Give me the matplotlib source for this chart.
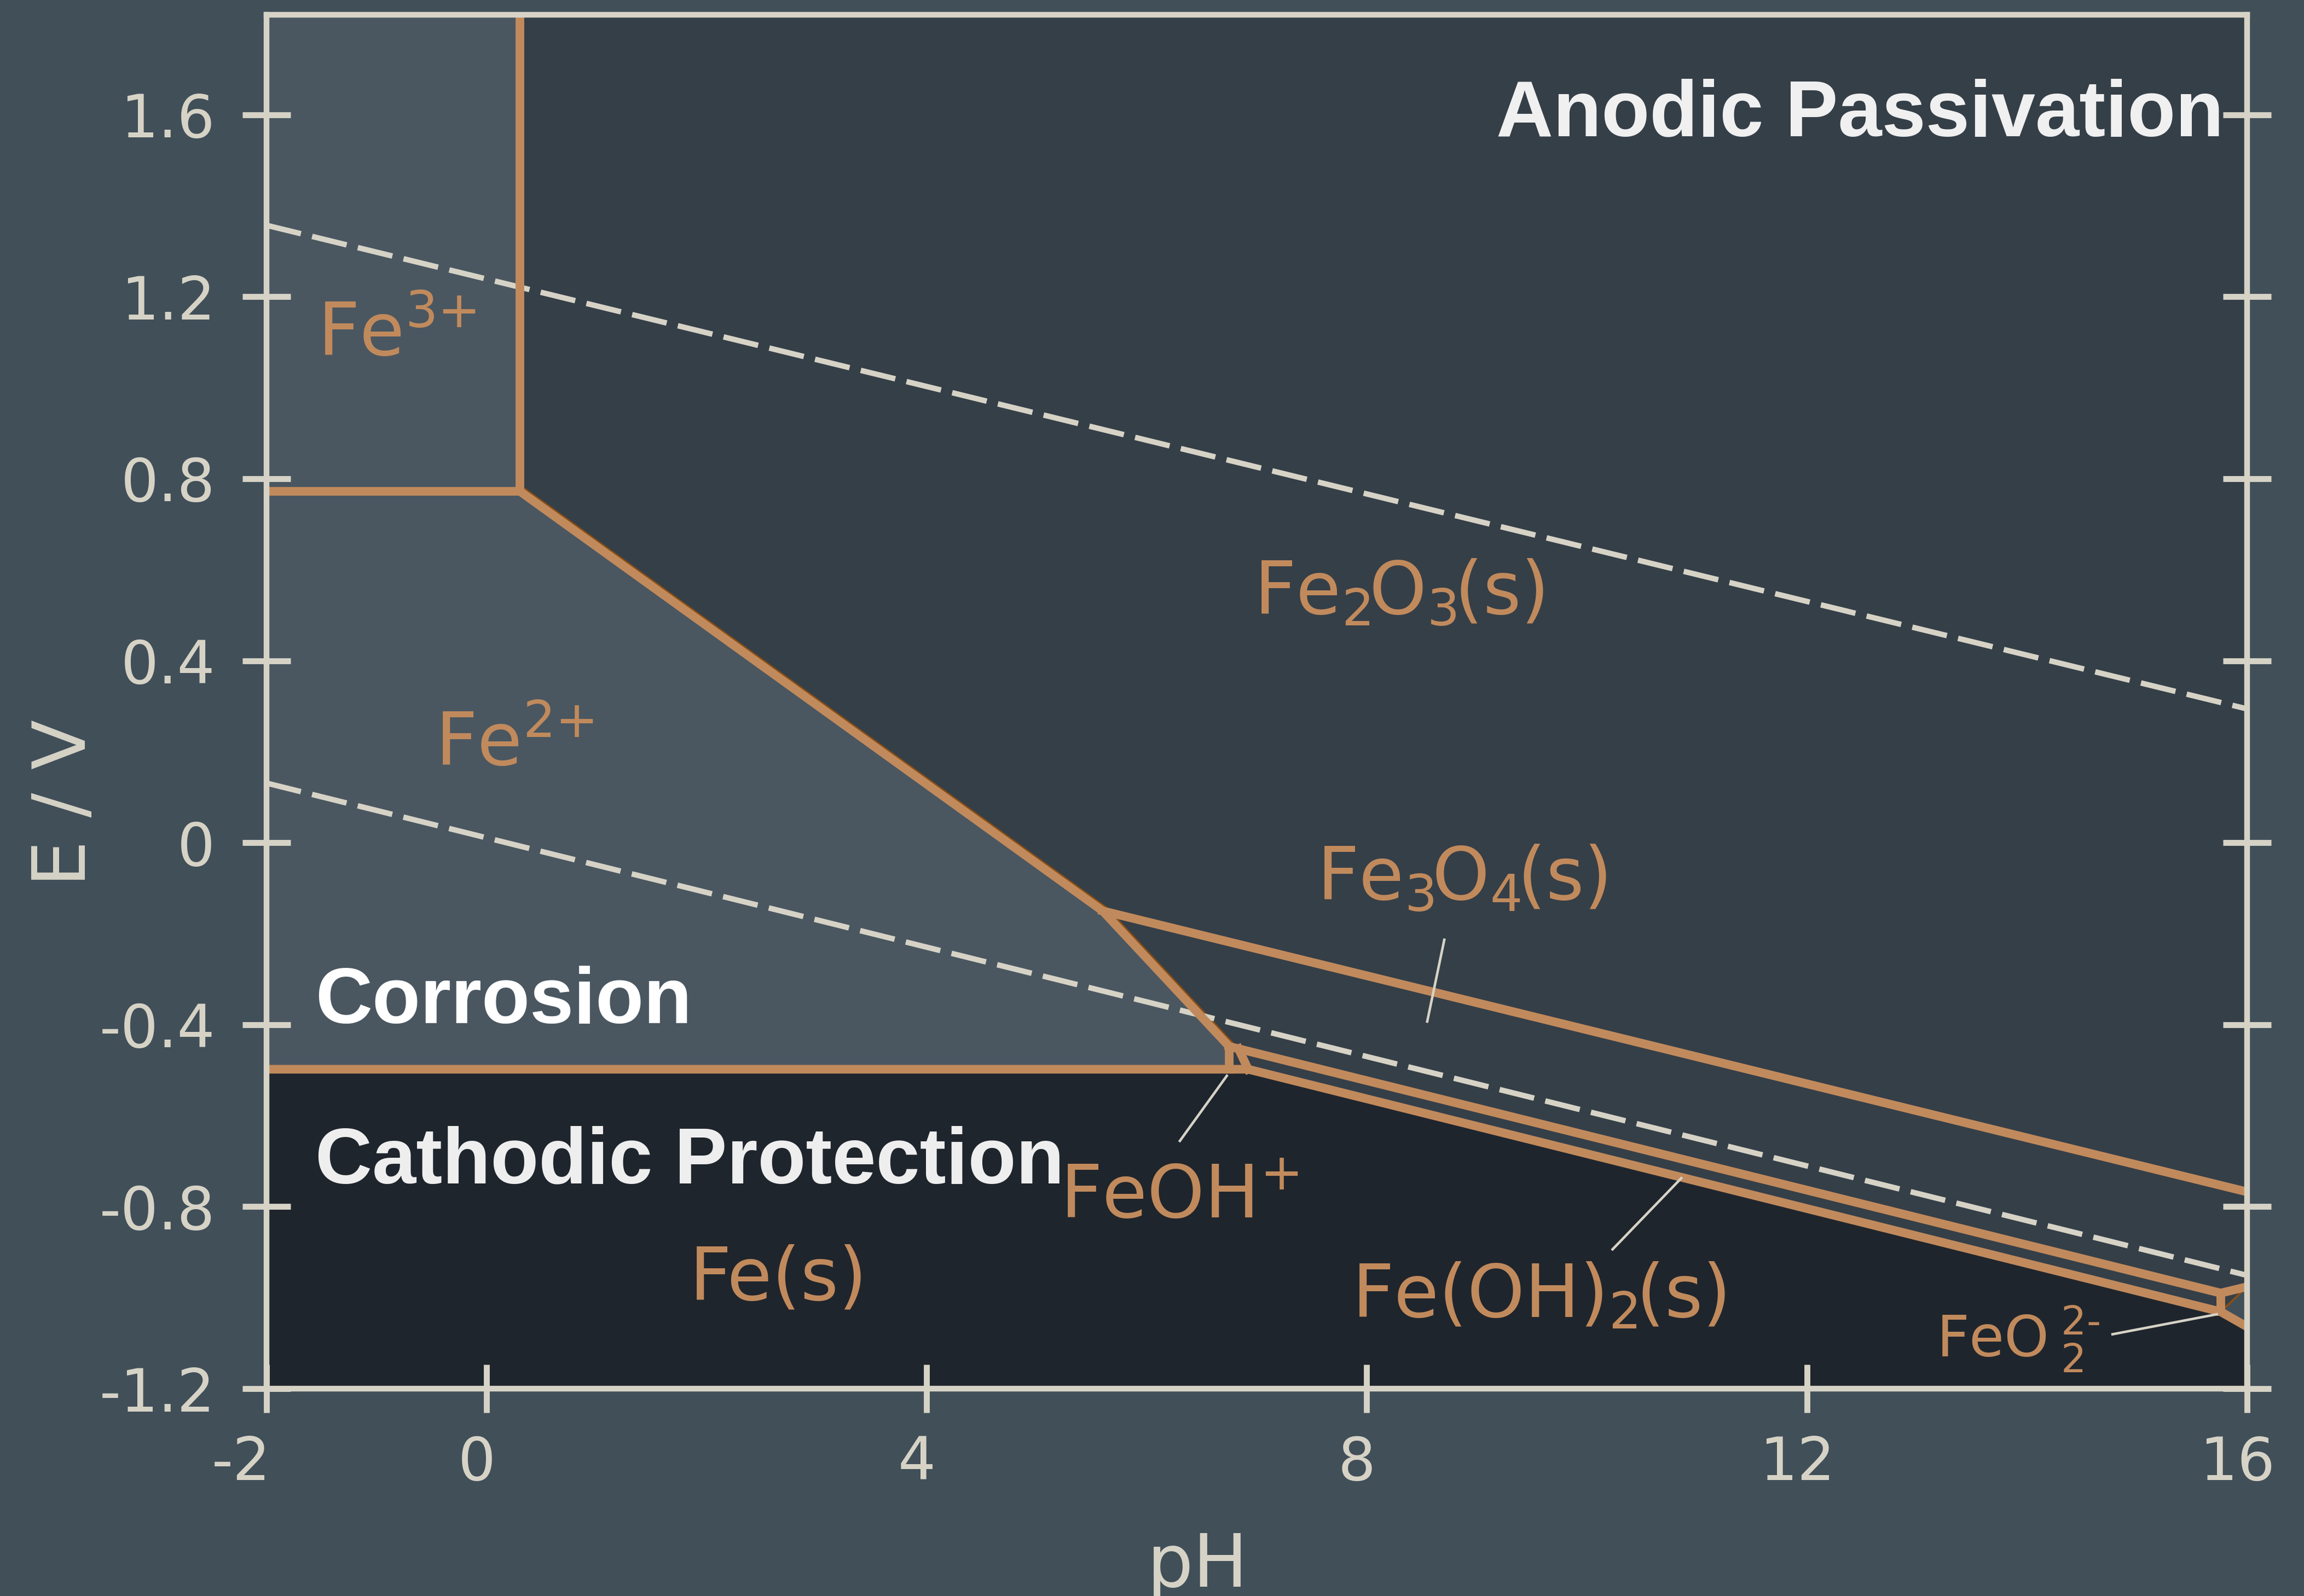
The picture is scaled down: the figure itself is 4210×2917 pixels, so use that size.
import matplotlib
matplotlib.use('Agg')
import matplotlib.pyplot as plt
from matplotlib.patches import Polygon
from matplotlib.transforms import blended_transform_factory, ScaledTranslation

# ---------------- data ----------------
pH_min, pH_max = -2, 16
E_min, E_max = -1.2, 1.82

xticks = [-2, 0, 4, 8, 12, 16]
xtick_labels = ['-2', '0', '4', '8', '12', '16']
yticks = [1.6, 1.2, 0.8, 0.4, 0, -0.4, -0.8, -1.2]
ytick_labels = ['1.6', '1.2', '0.8', '0.4', '0', '-0.4', '-0.8', '-1.2']

# triple points (pH, E / V)
tp_fe3_fe2_fe2o3 = (0.306, 0.772)
tp_fe2_fe2o3_fe3o4 = (5.600, -0.150)
tp_fe2_fe3o4_feoh = (6.750, -0.448)
tp_feoh_fe3o4_feoh2 = (6.835, -0.453)
tp_fe2_feoh_fe = (6.750, -0.498)
tp_feoh_feoh2_fe = (6.922, -0.498)
tp_fe3o4_feoh2_feo2 = (15.76, -0.990)
tp_feoh2_fe_feo2 = (15.76, -1.031)

# where boundaries meet the frame
E_fe3_fe2_left = 0.772        # at pH -2
E_fe2_fe_left = -0.498        # at pH -2
E_fe2o3_fe3o4_right = -0.7675  # at pH 16
E_fe3o4_feo2_right = -0.976    # at pH 16
E_feo2_fe_right = -1.064       # at pH 16

# water stability lines
water_pH = [-2, 16]
water_O2_E = [1.357, 0.294]
water_H2_E = [0.131, -0.951]

# species labels: text, pH, E, size
species_labels = [
    (r'Fe$^{3{+}}$', -1.537, 1.071, 32),
    (r'Fe$^{2{+}}$', -0.467, 0.170, 32),
    (r'Fe$_2\hspace{-0.1}$O$_3\hspace{-0.1}$(s)', 6.972, 0.5025, 32),
    (r'Fe$_3\hspace{-0.1}$O$_4\hspace{-0.1}$(s)', 7.543, -0.125, 32),
    (r'FeOH$^{+}$', 5.214, -0.825, 32),
    (r'Fe(OH)$_2\hspace{-0.1}$(s)', 7.865, -1.042, 32),
    ('Fe(s)', 1.844, -1.005, 32),
    ('FeO\u2009$_2^{2\u2010}$', 13.173, -1.131, 25),
]

# leader lines: (pH list, E list)
leaders = [
    ([8.707, 8.547], [-0.2107, -0.3959]),   # Fe3O4
    ([6.295, 6.735], [-0.6577, -0.5102]),   # FeOH+
    ([10.226, 10.866], [-0.8958, -0.7355]),  # Fe(OH)2
    ([14.766, 15.735], [-1.081, -1.0361]),  # FeO2 2-
]

# region (bold) labels: text, pH, E, ha, colour
region_labels = [
    ('Anodic Passivation', 15.787, 1.5536, 'right', '#F0F0F0'),
    ('Corrosion', -1.5555, -0.3968, 'left', '#FFFFFF'),
    ('Cathodic Protection', -1.5555, -0.7485, 'left', '#EEEEEE'),
]

# ---------------- style ----------------
FIG_BG = '#414F59'
LIGHT = '#4A5761'
MEDIUM = '#353F48'
DARK = '#1F252D'
ORANGE = '#C18A5C'
BEIGE = '#D6D3C6'
BROWN = '#8A4E12'

plt.rcParams['font.family'] = ['DejaVu Sans']
plt.rcParams['axes.unicode_minus'] = False

W, H, DPI = 4210, 2917, 300
fig = plt.figure(figsize=(W / DPI, H / DPI), dpi=DPI, facecolor=FIG_BG)
ax = fig.add_axes([486.7 / W, (H - 2538) / H, (4106 - 486.7) / W, (2538 - 26.7) / H])
ax.set_facecolor(FIG_BG)
ax.set_xlim(pH_min, pH_max)
ax.set_ylim(E_min, E_max)

tp1, tp2, tp3, tp4 = tp_fe3_fe2_fe2o3, tp_fe2_fe2o3_fe3o4, tp_fe2_fe3o4_feoh, tp_feoh_fe3o4_feoh2
tp5, tp6, tp7, tp8 = tp_fe2_feoh_fe, tp_feoh_feoh2_fe, tp_fe3o4_feoh2_feo2, tp_feoh2_fe_feo2

# ---- region fills ----
light_poly = [(pH_min, E_max), (tp1[0], E_max), tp1, tp2, tp3, tp5, (pH_min, E_fe2_fe_left)]
medium_poly = [(tp1[0], E_max), (pH_max, E_max), (pH_max, E_fe3o4_feo2_right), tp8, tp6,
               tp5, tp3, tp2, tp1]
dark_poly = [(pH_min, E_fe2_fe_left), tp5, tp6, tp8, (pH_max, E_feo2_fe_right),
             (pH_max, E_min), (pH_min, E_min)]
for poly, col in [(light_poly, LIGHT), (medium_poly, MEDIUM), (dark_poly, DARK)]:
    ax.add_patch(Polygon(poly, closed=True, facecolor=col, edgecolor='none', zorder=1))

# thin brown polygon edges
off = ScaledTranslation(1.5 / 72, 1.5 / 72, fig.dpi_scale_trans)
ax.plot([tp1[0], tp2[0], tp3[0]], [tp1[1], tp2[1], tp3[1]], color=BROWN, lw=0.9,
        transform=ax.transData + off, zorder=2)
ax.plot([tp8[0], pH_max], [tp8[1], E_fe3o4_feo2_right], color=BROWN, lw=0.9, zorder=2)

# ---- water lines ----
for E_line in (water_O2_E, water_H2_E):
    ax.plot(water_pH, E_line, color=BEIGE, lw=2.4, dashes=(6.5, 2.1),
            dash_capstyle='butt', zorder=3)

# ---- boundaries ----
boundaries = [
    [(pH_min, E_fe3_fe2_left), tp1, (tp1[0], E_max)],
    [tp1, tp2, tp3, tp5, (pH_min, E_fe2_fe_left)],
    [tp2, (pH_max, E_fe2o3_fe3o4_right)],
    [tp3, tp4, tp7, (pH_max, E_fe3o4_feo2_right)],
    [tp5, tp6, tp8, (pH_max, E_feo2_fe_right)],
    [tp4, tp6],
    [tp7, tp8],
]
for b in boundaries:
    xs = [p[0] for p in b]
    ys = [p[1] for p in b]
    ax.plot(xs, ys, color=ORANGE, lw=3.8, solid_joinstyle='miter',
            solid_capstyle='projecting', zorder=4)

# ---- leaders ----
for xs, ys in leaders:
    ax.plot(xs, ys, color=BEIGE, lw=1.1, solid_capstyle='butt', zorder=5)

# ---- labels ----
for txt, x, y, fs in species_labels:
    ax.text(x, y, txt, color=ORANGE, fontsize=fs, ha='left', va='baseline', zorder=6)

for txt, x, y, ha, col in region_labels:
    ax.text(x, y, txt, color=col, fontsize=34.6, fontweight='bold',
            family=['Liberation Sans', 'DejaVu Sans'], ha=ha, va='baseline', zorder=6)

# ---- axes styling ----
for s in ax.spines.values():
    s.set_color(BEIGE)
    s.set_linewidth(2.5)
    s.set_zorder(10)
ax.xaxis.set_zorder(10)
ax.yaxis.set_zorder(10)

ax.set_yticks(yticks)
ax.set_yticklabels(ytick_labels)
ax.set_xticks(xticks)
ax.set_xticklabels([''] * len(xticks))
ax.tick_params(axis='both', direction='inout', length=21, width=2.6, color=BEIGE,
               labelcolor=BEIGE, labelsize=26)
ax.tick_params(axis='y', left=True, right=True, labelright=False, pad=12)
ax.tick_params(axis='x', top=False, bottom=True)

trans_x = blended_transform_factory(ax.transData, ax.transAxes)
for x, lab in zip(xticks, xtick_labels):
    dx = -11.0 if lab.startswith('-') else -4.3
    ax.text(x, -0.0334, lab, transform=trans_x + ScaledTranslation(dx / 72, 0, fig.dpi_scale_trans),
            ha='center', va='top', fontsize=26, color=BEIGE, clip_on=False)

ax.set_xlabel('pH', fontsize=32, color=BEIGE)
ax.xaxis.set_label_coords(0.4703, -0.1035)
ax.set_ylabel('E / V', fontsize=32, color=BEIGE)
ax.yaxis.set_label_coords(-0.0835, 0.4261)

fig.savefig('out.png', dpi=DPI, facecolor=FIG_BG)
